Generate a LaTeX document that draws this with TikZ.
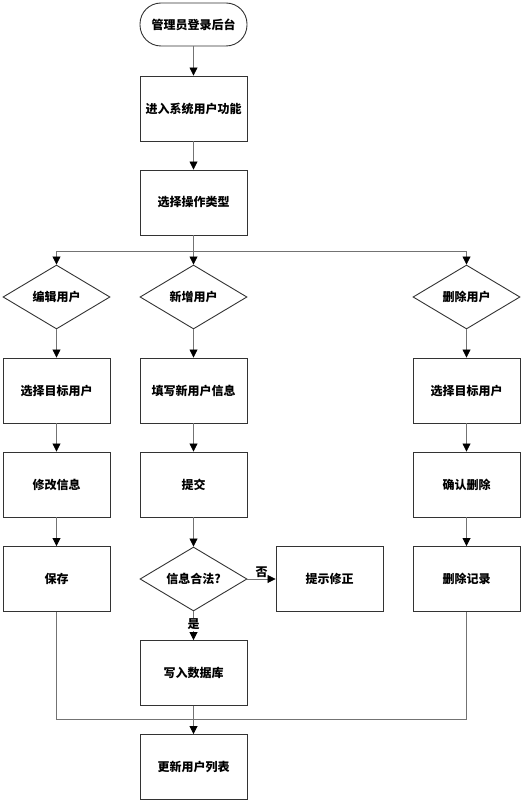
\documentclass[tikz,border=0pt]{standalone}
\usepackage{fontspec}
\setmainfont{Noto Sans CJK SC}
\usetikzlibrary{shapes.geometric,arrows.meta}
\begin{document}
\begin{tikzpicture}[x=1pt,y=-1pt,
    box/.style={rectangle,draw=black!80,line width=0.9pt,minimum width=107pt,minimum height=65pt,inner sep=0pt,font=\bfseries\fontsize{12}{14}\selectfont},
    term/.style={box,rounded corners=21pt,minimum height=43pt},
    choice/.style={diamond,draw=black!80,line width=0.9pt,minimum width=107pt,minimum height=64pt,aspect=1.67,inner sep=0pt,font=\bfseries\fontsize{12}{14}\selectfont},
    flow/.style={draw=black!55,line width=0.8pt},
    arr/.style={flow,-{Triangle[length=8pt,width=8pt,color=black]}},
    lbl/.style={font=\bfseries\fontsize{12}{14}\selectfont,inner sep=1pt}]
  \useasboundingbox (0,0) rectangle (525,802);
  \node at (193.5,24.5) [term] (start) {管理员登录后台};
  \node at (193.5,108.5) [box] (enter) {进入系统用户功能};
  \node at (193.5,202.5) [box] (type) {选择操作类型};
  \coordinate (fork) at (193.5,251);
  % three branches
  \node at (56.5,297) [choice] (edit) {编辑用户};
  \node at (193.5,297) [choice] (add) {新增用户};
  \node at (466.5,297) [choice] (del) {删除用户};
  \node at (56.5,390.5) [box] (esel) {选择目标用户};
  \node at (56.5,484.5) [box] (emod) {修改信息};
  \node at (56.5,579) [box] (esave) {保存};
  \node at (193.5,390.5) [box] (afill) {填写新用户信息};
  \node at (193.5,484.5) [box] (asub) {提交};
  \node at (193.5,579) [choice] (acheck) {信息合法?};
  \node at (329.5,579) [box] (afix) {提示修正};
  \node at (193.5,673) [box] (awrite) {写入数据库};
  \node at (466.5,390.5) [box] (dsel) {选择目标用户};
  \node at (466.5,484.5) [box] (dconf) {确认删除};
  \node at (466.5,579) [box] (drec) {删除记录};
  \node at (193.5,767) [box] (update) {更新用户列表};
  \coordinate (join) at (193.5,719);
  \draw[arr] (start) -- (enter);
  \draw[arr] (enter) -- (type);
  \draw[arr] (type) -- (add);
  \draw[arr] (fork) -| (edit);
  \draw[arr] (fork) -| (del);
  \draw[arr] (edit) -- (esel);
  \draw[arr] (esel) -- (emod);
  \draw[arr] (emod) -- (esave);
  \draw[arr] (add) -- (afill);
  \draw[arr] (afill) -- (asub);
  \draw[arr] (asub) -- (acheck);
  \draw[arr] (acheck) -- node[lbl,above,pos=0.5] {否} (afix);
  \draw[arr] (acheck) -- node[lbl,fill=white,pos=0.45] {是} (awrite);
  \draw[arr] (del) -- (dsel);
  \draw[arr] (dsel) -- (dconf);
  \draw[arr] (dconf) -- (drec);
  \draw[flow] (esave) |- (join);
  \draw[flow] (drec) |- (join);
  \draw[arr] (awrite) -- (update);
\end{tikzpicture}
\end{document}
